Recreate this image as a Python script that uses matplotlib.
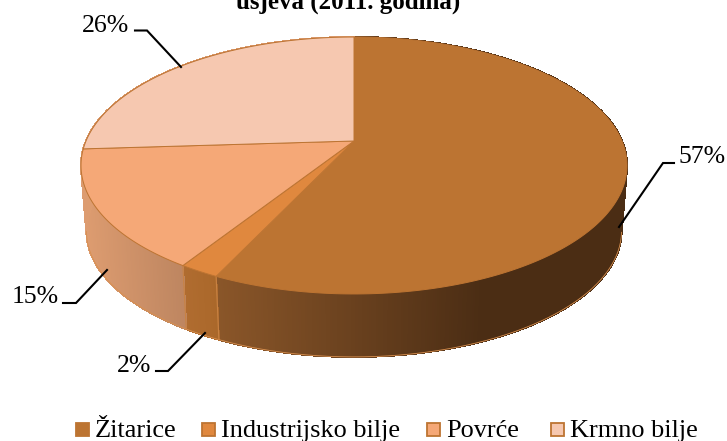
"""Perspective 3D pie of crop shares, drawn on a pixel-sized axes."""

from __future__ import annotations

import matplotlib

matplotlib.use('Agg')
import matplotlib.pyplot as plt
import numpy as np
from matplotlib.collections import PolyCollection
from matplotlib.colors import to_rgb
from matplotlib.patches import Polygon, Rectangle

CATEGORIES = ['Žitarice', 'Industrijsko bilje', 'Povrće', 'Krmno bilje']
SHARES = [57, 2, 15, 26]
TITLE_LINE = 'usjeva (2011. godina)'

TOP_COLORS = ['#bc7432', '#e0883e', '#f5a877', '#f6c8b0']
# side wall gradient per slice: (x left, colour left, x right, colour right)
SIDE_GRADIENTS = [
    (218, '#8a5629', 480, '#4b2d14'),
    (184, '#b06c30', 222, '#a96729'),
    (84, '#dd9c70', 186, '#bd8560'),
    (80, '#dd9c70', 90, '#dd9c70'),
]
EDGE = '#bd7432'

# projection of the unit disc: far side squeezed by PERSP
PERSP = 0.1906
SCALE_X = 268.0
SCALE_Y = 123.8
CX = 354.0
TOP_APEX_Y = 141.0
BOTTOM_APEX_Y = 207.0
BOTTOM_SCALE = 0.98

# label text position, then the elbow line
LABELS = [
    ('57%', 679, 163, [(674, 163), (663, 163), (619, 227)]),
    ('2%', 117, 372, [(156, 371), (168, 371), (205, 333)]),
    ('15%', 12, 303, [(63, 303), (76, 303), (107, 270)]),
    ('26%', 82, 32, [(135, 30.5), (147, 30.5), (181, 67)]),
]
LEGEND_X = [(75, 95), (201, 221), (426, 446), (550, 570)]


def project(frac, apex_y=TOP_APEX_Y, scale=1.0):
    # frac runs clockwise from 12 o'clock
    ang = 2 * np.pi * np.asarray(frac)
    u, v = np.sin(ang), np.cos(ang)
    w = 1 + PERSP * v
    return CX + scale * SCALE_X * u / w, apex_y - scale * SCALE_Y * v / w


def side_quads(f0, f1, gradient):
    x_l, c_l, x_r, c_r = gradient
    c_l, c_r = np.array(to_rgb(c_l)), np.array(to_rgb(c_r))
    fr = np.linspace(f0, f1, max(8, int((f1 - f0) * 900)))
    xt, yt = project(fr)
    xb, yb = project(fr, BOTTOM_APEX_Y, BOTTOM_SCALE)
    quads, colors = [], []
    for i in range(len(fr) - 1):
        quads.append([(xt[i], yt[i]), (xt[i + 1], yt[i + 1]),
                      (xb[i + 1], yb[i + 1]), (xb[i], yb[i])])
        mid = (xt[i] + xt[i + 1] + xb[i] + xb[i + 1]) / 4
        t = np.clip((mid - x_l) / (x_r - x_l), 0, 1)
        colors.append(c_l + (c_r - c_l) * t)
    return quads, colors


def main() -> None:
    plt.rcParams['font.family'] = ['Liberation Serif', 'DejaVu Sans']
    fig = plt.figure(figsize=(7.27, 4.41), dpi=100)
    ax = fig.add_axes([0, 0, 1, 1])
    ax.set_xlim(0, 727)
    ax.set_ylim(441, 0)
    ax.axis('off')

    edges = np.cumsum([0] + SHARES) / sum(SHARES)

    # walls first, the top face covers whatever is behind it
    for i in range(len(SHARES)):
        quads, colors = side_quads(edges[i], edges[i + 1], SIDE_GRADIENTS[i])
        ax.add_collection(PolyCollection(quads, facecolors=colors, edgecolors=colors,
                                         linewidths=0.8, antialiaseds=False, zorder=2))
        # light seam along the lower rim
        fr = np.linspace(edges[i], edges[i + 1], 100)
        xb, yb = project(fr, BOTTOM_APEX_Y, BOTTOM_SCALE)
        vis = (xb > 86) & (yb > 231)
        ax.plot(xb[vis], yb[vis], color='#d9904f', lw=0.6, zorder=3)

    # slice seams on the wall
    for f in edges[1:3]:
        xt, yt = project(f)
        xb, yb = project(f, BOTTOM_APEX_Y, BOTTOM_SCALE)
        ax.plot([xt, xb], [yt, yb], color='#c98243', lw=0.8, zorder=3)

    for i in range(len(SHARES)):
        fr = np.linspace(edges[i], edges[i + 1], 200)
        xs, ys = project(fr)
        pts = np.column_stack([np.r_[CX, xs], np.r_[TOP_APEX_Y, ys]])
        ax.add_patch(Polygon(pts, closed=True, facecolor=TOP_COLORS[i],
                             edgecolor=EDGE, lw=0.7, zorder=4))

    for text, x, y, line in LABELS:
        ax.text(x, y, text, fontsize=18.5, color='black', ha='left', va='baseline', zorder=6)
        lx, ly = zip(*line)
        ax.plot(lx, ly, color='black', lw=1.5, solid_joinstyle='miter', zorder=5)

    for name, color, (sq_x, txt_x) in zip(CATEGORIES, TOP_COLORS, LEGEND_X):
        ax.add_patch(Rectangle((sq_x + 0.7, 422.7), 13.6, 13.6, facecolor=color,
                               edgecolor=EDGE, lw=1.3, zorder=5))
        ax.text(txt_x, 437, name, fontsize=18.9, color='black', ha='left', va='baseline')

    ax.text(348, 9, TITLE_LINE, fontsize=18, fontweight='bold', color='black',
            ha='center', va='baseline')

    fig.savefig('out.png', dpi=100)
    plt.close(fig)


if __name__ == '__main__':
    main()
